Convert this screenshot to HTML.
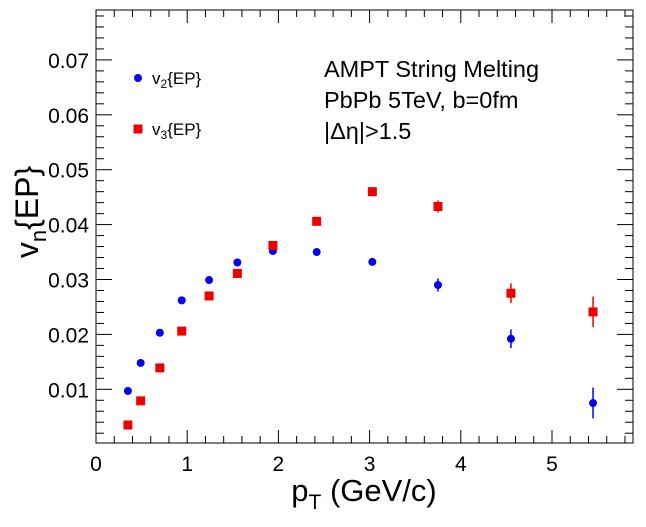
<!DOCTYPE html>
<html><head><meta charset="utf-8"><style>
body{margin:0;background:#fff}
svg text{font-family:"Liberation Sans",sans-serif}
</style></head><body>
<svg id="c" width="646" height="522" xmlns="http://www.w3.org/2000/svg">
<rect width="646" height="522" fill="#fff"/>
<g id="axes"></g><g id="marks"></g>
<g>
<circle cx="138" cy="78" r="4" fill="#0000ee"/>
<text x="152" y="84" font-size="17">v<tspan font-size="12" dy="4">2</tspan><tspan dy="-4">{EP}</tspan></text>
<rect x="133.5" y="124.5" width="9" height="9" fill="#ee0000"/>
<text x="152" y="135" font-size="17">v<tspan font-size="12" dy="4">3</tspan><tspan dy="-4">{EP}</tspan></text>
</g>
<g font-size="23.5">
<text x="324" y="77">AMPT String Melting</text>
<text x="324" y="108">PbPb 5TeV, b=0fm</text>
<text x="324" y="139">|Δη|&gt;1.5</text>
</g>
<text transform="translate(38,212) rotate(-90)" text-anchor="middle" font-size="32">v<tspan font-size="22" dy="8">n</tspan><tspan dy="-8">{EP}</tspan></text>
<text x="364" y="501" text-anchor="middle" font-size="31">p<tspan font-size="21" dy="8">T</tspan><tspan dy="-8"> (GeV/c)</tspan></text>
</svg>
<script>
const v2x=[0.35,0.49,0.70,0.94,1.24,1.55,1.94,2.42,3.03,3.75,4.55,5.45];
const v2y=[0.0097,0.0148,0.0203,0.0262,0.0299,0.0331,0.0352,0.0350,0.0332,0.0290,0.0192,0.0075];
const v2e=[0.0002,0.0002,0.0002,0.0003,0.0003,0.0003,0.0003,0.0004,0.0005,0.0012,0.0017,0.0028];
const v3x=[0.35,0.49,0.70,0.94,1.24,1.55,1.94,2.42,3.03,3.75,4.55,5.45];
const v3y=[0.0035,0.0079,0.0139,0.0206,0.0270,0.0311,0.0362,0.0406,0.0460,0.0433,0.0275,0.0241];
const v3e=[0.0002,0.0002,0.0002,0.0003,0.0003,0.0003,0.0003,0.0004,0.0005,0.0011,0.0018,0.0028];
const xTicks=[0,1,2,3,4,5];
const yTicks=[0.01,0.02,0.03,0.04,0.05,0.06,0.07];
const NS="http://www.w3.org/2000/svg";
const L=96,R=633,T=10,B=443;
const X=v=>96+v*91.2;
const Y=v=>389.3-(v-0.01)*5490;
function mk(t,a,p){const e=document.createElementNS(NS,t);for(const k in a)e.setAttribute(k,a[k]);p.appendChild(e);return e;}
const ax=document.getElementById('axes'),mg=document.getElementById('marks');
const fr=mk('rect',{x:L,y:T,width:R-L,height:B-T,fill:'none',stroke:'#000','stroke-width':1},ax);


for(let i=0;i<=29;i++){const v=i*0.2;const x=X(v);if(x>R)break;const big=i%5==0;const h=big?13:7;
mk('line',{x1:x,x2:x,y1:B,y2:B-h,stroke:'#000'},ax);mk('line',{x1:x,x2:x,y1:T,y2:T+h,stroke:'#000'},ax);}
xTicks.forEach(v=>{const t=mk('text',{x:X(v),y:471,'text-anchor':'middle','font-size':21},ax);t.textContent=String(v);

});
for(let i=0;i<=40;i++){const v=i*0.002;const y=Y(v);if(y>B||y<T)continue;const big=i%5==0;const h=big?16:8;
mk('line',{x1:L,x2:L+h,y1:y,y2:y,stroke:'#000'},ax);mk('line',{x1:R,x2:R-h,y1:y,y2:y,stroke:'#000'},ax);}
yTicks.forEach(v=>{const t=mk('text',{x:89,y:Y(v)+8,'text-anchor':'end','font-size':21},ax);t.textContent=v.toFixed(2);

});
v2x.forEach((x,i)=>{const g=mk('g',{},mg);


mk('line',{x1:X(x),x2:X(x),y1:Y(v2y[i]-v2e[i]),y2:Y(v2y[i]+v2e[i]),stroke:'#0000ee','stroke-width':1.5},g);
mk('circle',{cx:X(x),cy:Y(v2y[i]),r:4,fill:'#0000ee'},g);});
v3x.forEach((x,i)=>{const g=mk('g',{},mg);


mk('line',{x1:X(x),x2:X(x),y1:Y(v3y[i]-v3e[i]),y2:Y(v3y[i]+v3e[i]),stroke:'#ee0000','stroke-width':1.5},g);
mk('rect',{x:X(x)-4.5,y:Y(v3y[i])-4.5,width:9,height:9,fill:'#ee0000'},g);});
</script>
</body></html>
